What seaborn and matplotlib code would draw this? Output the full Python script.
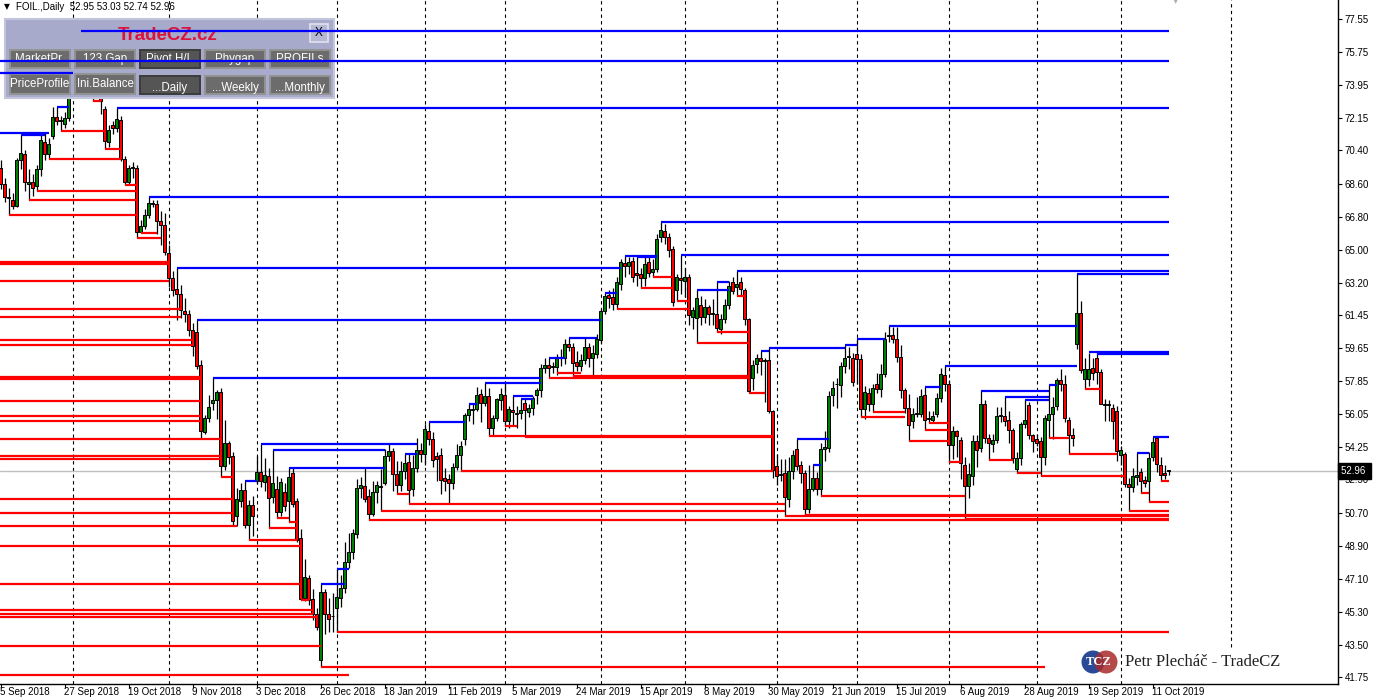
import numpy as np
import pandas as pd
import matplotlib
matplotlib.use("Agg")
import matplotlib.pyplot as plt
from matplotlib.patches import Rectangle, Circle
import seaborn as sns

# daily candles FOIL (one value per bar, bar 0 = 5 Sep 2018)
opens = [
    69.47, 68.55, 67.84, 67.73, 67.40, 69.86, 70.18, 68.60, 68.71, 68.44,
    69.37, 70.84, 70.18, 71.17, 72.20, 72.04, 71.82, 72.15, 73.50, 75.10,
    75.20, 76.30, 74.40, 74.30, 73.50, 73.30, 72.65, 70.86, 71.79, 71.62,
    72.04, 69.91, 68.66, 69.45, 69.47, 65.98, 66.28, 66.91, 67.51, 67.46,
    66.58, 66.36, 64.84, 63.47, 62.87, 62.60, 61.67, 61.51, 60.64, 60.50,
    58.73, 55.09, 55.83, 56.65, 56.84, 57.25, 53.22, 54.47, 53.76, 50.49,
    51.33, 51.91, 50.05, 51.09, 52.42, 52.89, 52.34, 52.68, 51.53, 51.96,
    50.72, 51.80, 51.31, 52.84, 51.33, 49.29, 46.07, 47.16, 46.01, 45.20,
    42.68, 46.36, 45.20, 45.05, 45.52, 46.03, 46.61, 48.03, 48.58, 49.52,
    52.02, 52.13, 51.58, 50.60, 51.81, 52.08, 52.31, 53.76, 54.03, 52.79,
    52.22, 52.98, 53.43, 51.96, 53.11, 54.08, 53.87, 55.13, 54.69, 53.76,
    53.82, 52.56, 52.51, 52.29, 53.16, 53.82, 54.71, 56.00, 56.30, 56.34,
    57.15, 56.66, 57.04, 55.29, 55.83, 56.80, 57.09, 55.67, 56.29, 56.10,
    56.10, 56.67, 56.16, 56.40, 57.09, 57.36, 58.56, 58.73, 58.63, 58.63,
    59.12, 59.11, 59.87, 59.72, 58.90, 58.70, 59.00, 59.72, 59.12, 59.34,
    60.09, 61.67, 62.55, 62.40, 62.07, 63.16, 64.29, 64.13, 64.40, 63.73,
    63.70, 63.44, 64.35, 63.76, 63.95, 65.67, 66.04, 65.67, 65.04, 62.80,
    63.46, 63.28, 63.52, 61.35, 61.27, 61.99, 61.35, 61.86, 61.52, 61.49,
    60.67, 61.22, 61.98, 63.26, 62.95, 63.22, 62.80, 61.22, 58.03, 58.77,
    59.12, 58.94, 58.98, 56.25, 53.22, 52.76, 52.85, 51.45, 52.98, 54.18,
    53.27, 52.85, 50.91, 52.00, 52.58, 52.00, 54.16, 54.22, 57.07, 57.67,
    57.64, 58.67, 59.16, 59.12, 59.34, 59.04, 56.31, 57.22, 56.58, 57.67,
    57.40, 58.22, 60.30, 60.35, 60.13, 59.16, 57.36, 56.40, 55.67, 56.07,
    56.04, 57.07, 55.79, 55.76, 56.04, 56.94, 58.16, 57.71, 54.36, 55.16,
    54.67, 53.27, 52.13, 52.67, 54.62, 54.20, 56.58, 54.76, 54.44, 54.67,
    55.98, 55.94, 55.76, 55.21, 53.07, 53.67, 55.52, 56.54, 54.91, 54.70,
    54.62, 53.73, 55.76, 56.04, 56.49, 57.89, 57.71, 55.76, 54.94, 59.86,
    61.55, 57.99, 57.96, 58.55, 59.09, 58.36, 56.54, 56.54, 56.37, 56.21,
    53.82, 53.89, 52.27, 52.08, 52.62, 52.90, 52.45, 52.40, 53.73, 54.76,
    53.31, 52.85, 52.95]
highs = [
    69.90, 68.90, 68.33, 68.10, 69.97, 71.22, 70.40, 69.37, 69.10, 69.60,
    71.22, 71.33, 71.06, 72.75, 72.75, 72.26, 72.50, 73.80, 75.30, 75.80,
    76.90, 76.50, 74.90, 74.60, 74.40, 73.60, 72.80, 71.80, 72.00, 72.70,
    72.30, 70.10, 69.60, 69.77, 69.60, 66.60, 67.20, 67.86, 67.70, 67.73,
    67.13, 67.02, 65.27, 63.86, 64.02, 63.09, 62.38, 61.70, 61.00, 61.18,
    59.00, 56.00, 57.09, 58.02, 57.36, 57.50, 55.73, 54.60, 54.00, 52.02,
    52.30, 52.42, 51.40, 51.60, 53.76, 54.43, 53.65, 53.10, 54.10, 52.70,
    52.60, 52.30, 53.12, 53.16, 51.50, 49.78, 48.20, 47.30, 46.56, 45.50,
    46.80, 46.56, 46.03, 46.30, 47.62, 47.30, 49.12, 49.58, 49.78, 52.51,
    52.62, 53.12, 52.00, 52.40, 52.40, 53.05, 54.15, 54.41, 54.20, 53.49,
    53.49, 53.87, 53.87, 53.82, 54.76, 54.50, 55.51, 55.63, 55.10, 54.00,
    54.20, 53.10, 52.80, 53.40, 54.43, 54.60, 56.10, 56.61, 56.61, 57.53,
    57.40, 57.77, 57.50, 56.00, 56.94, 57.50, 57.77, 56.50, 57.04, 56.50,
    56.90, 56.94, 56.60, 57.04, 57.50, 58.80, 59.10, 59.12, 58.90, 59.30,
    59.60, 60.15, 60.20, 59.90, 59.50, 59.30, 60.25, 59.90, 59.80, 60.40,
    61.80, 62.67, 62.83, 62.90, 63.49, 64.50, 64.67, 64.60, 64.60, 64.60,
    64.00, 64.60, 64.67, 64.50, 65.86, 66.53, 66.40, 65.90, 65.20, 63.70,
    64.71, 64.00, 63.70, 61.90, 62.83, 62.50, 62.30, 62.00, 62.30, 63.22,
    61.50, 62.30, 63.30, 63.49, 63.86, 63.49, 62.90, 61.30, 59.00, 59.30,
    59.49, 59.10, 59.64, 56.30, 53.90, 53.60, 53.60, 53.70, 54.12, 54.72,
    53.50, 53.00, 53.31, 53.27, 52.90, 54.50, 55.13, 57.30, 57.85, 58.00,
    58.90, 59.82, 59.70, 59.40, 60.13, 59.30, 57.60, 57.50, 57.70, 58.31,
    58.76, 60.50, 60.85, 60.80, 60.80, 59.80, 57.50, 57.13, 56.40, 57.00,
    57.40, 57.53, 56.20, 56.20, 57.20, 58.55, 58.67, 57.90, 55.40, 55.20,
    54.80, 53.70, 53.40, 54.90, 54.90, 57.35, 56.80, 55.00, 55.00, 56.43,
    56.43, 56.96, 56.20, 55.30, 54.00, 55.60, 56.80, 56.70, 55.00, 55.00,
    54.80, 56.00, 57.64, 57.00, 58.03, 58.50, 58.20, 55.90, 55.30, 63.70,
    62.22, 59.10, 59.38, 59.10, 59.38, 58.50, 56.90, 56.80, 56.60, 56.50,
    54.30, 54.00, 52.60, 53.10, 53.94, 53.10, 52.70, 54.00, 54.80, 54.80,
    53.70, 53.30, 53.03]
lows = [
    68.30, 67.60, 66.91, 67.20, 67.30, 69.37, 68.22, 67.73, 67.90, 68.22,
    69.00, 69.90, 69.91, 71.00, 71.77, 71.44, 71.60, 72.00, 73.30, 74.60,
    75.00, 74.20, 73.90, 73.10, 73.30, 72.40, 70.50, 70.60, 71.30, 71.40,
    69.80, 68.50, 68.60, 68.90, 65.66, 65.93, 66.10, 66.70, 67.30, 65.85,
    65.27, 64.73, 62.98, 62.49, 61.15, 61.30, 61.04, 60.32, 59.22, 58.50,
    54.69, 54.99, 55.60, 56.30, 55.81, 52.62, 53.00, 53.35, 50.05, 49.95,
    51.00, 49.85, 49.23, 49.45, 52.23, 52.10, 51.90, 49.88, 51.20, 50.38,
    50.50, 50.80, 50.20, 51.00, 49.12, 45.96, 45.90, 45.69, 44.87, 44.30,
    42.31, 44.12, 44.21, 44.21, 44.21, 45.58, 46.30, 47.70, 48.20, 49.30,
    51.50, 51.30, 50.27, 50.50, 51.20, 50.81, 52.18, 53.50, 51.85, 51.71,
    51.90, 52.50, 51.14, 51.60, 52.90, 53.45, 53.30, 54.40, 53.16, 52.40,
    51.69, 51.90, 51.14, 52.00, 53.00, 52.94, 54.40, 55.70, 55.50, 56.20,
    55.60, 56.50, 54.91, 54.85, 55.70, 56.30, 55.40, 55.30, 55.40, 55.31,
    55.80, 54.80, 55.90, 56.00, 56.60, 57.00, 58.30, 58.00, 58.30, 58.20,
    58.70, 58.80, 59.50, 58.13, 58.40, 58.40, 58.80, 58.63, 58.13, 59.10,
    59.90, 61.50, 61.84, 61.73, 61.77, 62.80, 63.50, 63.70, 63.22, 63.00,
    62.89, 63.00, 63.50, 63.49, 63.80, 65.40, 65.30, 64.60, 61.94, 62.22,
    62.60, 62.40, 60.90, 60.70, 59.94, 60.90, 61.00, 60.90, 60.90, 60.54,
    60.40, 61.00, 61.80, 62.60, 62.49, 62.50, 60.91, 57.22, 57.36, 58.30,
    58.20, 56.73, 56.10, 52.60, 52.22, 52.40, 50.50, 50.98, 52.50, 53.00,
    52.30, 50.58, 50.70, 51.90, 51.63, 51.58, 53.50, 54.00, 56.50, 56.40,
    57.00, 58.30, 58.50, 57.60, 57.70, 55.91, 55.80, 56.20, 56.18, 57.20,
    57.00, 58.10, 60.00, 59.90, 58.90, 56.91, 56.10, 54.58, 55.30, 55.90,
    55.90, 55.18, 55.58, 55.60, 55.90, 56.70, 57.30, 53.43, 53.60, 53.70,
    52.50, 50.36, 51.50, 52.20, 53.20, 54.00, 54.50, 53.58, 54.00, 54.50,
    55.60, 55.40, 54.50, 53.40, 52.85, 53.30, 55.30, 54.70, 54.00, 54.30,
    52.67, 53.30, 54.74, 54.70, 56.30, 57.30, 55.60, 53.89, 54.30, 59.60,
    58.30, 57.44, 57.60, 57.90, 57.70, 56.60, 55.70, 55.70, 54.70, 53.50,
    53.30, 52.10, 50.80, 51.80, 52.20, 51.77, 52.10, 51.27, 53.50, 52.90,
    52.40, 52.50, 52.74]
closes = [
    68.55, 67.84, 67.79, 67.40, 69.86, 70.24, 68.71, 68.70, 68.38, 69.37,
    70.95, 70.18, 70.73, 72.20, 71.98, 72.02, 72.15, 73.50, 75.10, 75.20,
    76.30, 74.40, 74.30, 73.50, 73.60, 73.10, 70.90, 71.52, 71.62, 72.09,
    69.91, 68.66, 69.42, 69.47, 65.98, 66.28, 66.91, 67.56, 67.51, 66.58,
    66.36, 64.89, 63.47, 62.79, 62.60, 61.70, 61.51, 60.64, 59.76, 58.67,
    55.13, 55.83, 56.43, 56.84, 57.25, 53.22, 54.47, 53.71, 50.22, 51.42,
    51.91, 50.05, 51.09, 50.51, 52.89, 52.42, 52.72, 51.50, 52.29, 50.72,
    52.34, 51.04, 52.62, 51.14, 49.23, 46.01, 47.22, 45.96, 45.20, 44.49,
    46.40, 45.16, 44.92, 45.05, 46.12, 46.58, 48.03, 48.58, 49.61, 52.02,
    52.18, 51.45, 50.60, 51.81, 52.18, 52.08, 53.76, 54.03, 52.79, 52.22,
    52.98, 53.40, 51.91, 53.11, 54.08, 53.87, 55.24, 54.69, 53.54, 53.60,
    52.45, 52.40, 52.29, 53.16, 53.82, 54.30, 56.00, 56.34, 56.34, 57.09,
    56.66, 57.04, 55.29, 55.83, 56.87, 57.16, 55.67, 56.32, 56.15, 56.07,
    56.30, 56.29, 56.40, 56.95, 57.36, 58.56, 58.73, 58.58, 58.63, 59.11,
    59.12, 59.87, 59.72, 58.84, 58.70, 59.00, 59.72, 59.12, 59.39, 60.15,
    61.67, 62.49, 62.38, 62.04, 63.22, 64.35, 64.09, 64.35, 63.54, 63.62,
    63.44, 64.24, 63.71, 63.95, 65.58, 66.08, 65.67, 64.98, 62.18, 63.52,
    63.35, 63.52, 61.45, 61.71, 62.37, 61.35, 61.86, 61.49, 61.52, 60.76,
    61.22, 61.98, 63.04, 62.76, 63.13, 62.85, 61.22, 57.30, 58.73, 59.12,
    58.94, 58.94, 56.25, 53.03, 52.67, 52.76, 51.52, 52.98, 53.85, 53.22,
    52.85, 50.89, 52.00, 52.58, 52.00, 54.16, 54.25, 57.04, 57.47, 57.67,
    58.67, 59.12, 59.16, 57.82, 59.04, 56.31, 57.25, 56.62, 57.45, 57.40,
    58.22, 60.13, 60.35, 60.13, 59.16, 57.36, 56.40, 55.49, 56.07, 56.07,
    57.02, 55.76, 55.79, 55.98, 56.94, 58.25, 57.71, 54.36, 55.13, 54.85,
    53.40, 52.13, 52.80, 54.62, 54.13, 56.58, 54.76, 54.49, 54.67, 55.94,
    55.98, 55.70, 55.21, 53.67, 53.67, 55.52, 55.76, 54.91, 54.62, 54.50,
    53.73, 55.82, 56.04, 56.43, 57.89, 57.71, 55.82, 54.91, 54.73, 61.55,
    58.44, 58.49, 58.49, 58.31, 58.36, 56.62, 56.54, 56.54, 55.67, 54.07,
    54.09, 52.27, 52.08, 52.67, 52.76, 52.40, 52.33, 53.67, 54.52, 53.33,
    52.72, 52.72, 52.96]

# support levels (red): price, first bar, last bar (-3 = starts left of the chart)
sup_level = [66.91, 67.73, 68.22, 69.91, 71.44, 73.10, 70.50, 68.50, 65.93, 65.66,
             64.32, 64.24, 63.31, 61.78, 61.35, 60.09, 59.82, 58.06, 57.98, 56.76,
             55.97, 55.67, 54.69, 53.76, 53.60, 52.62, 51.43, 50.70, 49.99, 49.23,
             49.88, 50.38, 50.20, 48.90, 46.83, 45.41, 45.20, 45.00, 43.45, 41.87,
             45.96, 42.31, 44.21, 50.27, 50.81, 51.14, 51.71, 52.94, 54.85, 54.80,
             55.40, 58.00, 58.13, 58.30, 61.77, 62.89, 63.49, 62.22, 60.54, 59.94,
             62.49, 57.22, 51.58, 50.58, 50.50, 56.18, 55.91, 55.58, 55.18, 54.58,
             53.43, 50.36, 53.58, 52.85, 52.67, 53.89, 54.74, 57.44, 52.40, 51.77,
             51.27, 50.80]
sup_from = [2, 7, 9, 12, 15, 23, 26, 31, 35, 34,
            -3, -3, -3, -3, -3, -3, -3, -3, -3, -3,
            -3, -3, -3, -3, -3, 55, -3, -3, -3, 62,
            67, 69, 72, -3, -3, -3, -3, -3, -3, -3,
            75, 80, 84, 92, 95, 102, 99, 115, 122, 131,
            126, 137, 143, 139, 154, 160, 163, 169, 179, 174,
            184, 187, 205, 201, 196, 218, 215, 232, 231, 227,
            237, 241, 247, 254, 260, 267, 262, 271, 290, 285,
            287, 282]
sup_to = [34, 34, 34, 30, 26, 25, 30, 34, 39, 40,
          42, 42, 42, 45, 45, 48, 48, 50, 50, 50,
          50, 50, 55, 55, 55, 58, 58, 58, 59, 74,
          74, 72, 74, 75, 75, 78, 78, 79, 80, 87,
          77, 261, 292, 292, 196, 196, 102, 193, 193, 193,
          129, 187, 187, 145, 172, 168, 168, 172, 187, 187,
          186, 191, 241, 292, 292, 226, 226, 237, 237, 237,
          240, 292, 253, 260, 281, 279, 267, 275, 292, 287,
          292, 292]

# resistance levels (blue)
res_level = [76.90, 75.26, 74.60, 72.70, 71.33, 71.22, 72.75, 67.86, 64.02, 61.18,
             58.02, 54.43, 54.10, 53.12, 52.42, 46.80, 47.62, 55.63, 57.77, 57.04,
             56.90, 53.87, 56.61, 60.20, 59.12, 64.67, 64.60, 66.53, 64.71, 63.86,
             62.83, 63.22, 62.67, 59.49, 59.64, 59.82, 60.13, 60.85, 58.67, 54.72,
             53.27, 63.70, 59.42, 59.34, 54.80, 53.94, 57.31, 56.96, 56.80, 57.64,
             57.53]
res_from = [20, -3, -3, 29, -3, 5, 14, 37, 44, 49,
            53, 65, 68, 72, 61, 80, 84, 107, 121, 128,
            130, 101, 117, 142, 137, 156, 159, 165, 170, 184,
            174, 179, 151, 190, 192, 211, 214, 222, 236, 199,
            203, 269, 272, 274, 288, 284, 245, 251, 256, 262,
            231]
res_to = [292, 292, 18, 292, 12, 11, 17, 292, 155, 150,
          135, 104, 96, 96, 64, 86, 87, 116, 135, 133,
          133, 104, 119, 149, 141, 164, 164, 292, 292, 292,
          182, 182, 154, 192, 211, 214, 221, 269, 269, 207,
          205, 292, 292, 292, 292, 287, 262, 262, 262, 264,
          235]

last_price = 52.96
price_ticks = [77.55, 75.75, 73.95, 72.15, 70.40, 68.60, 66.80, 65.00, 63.20, 61.45, 59.65,
               57.85, 56.05, 54.25, 52.50, 50.70, 48.90, 47.10, 45.30, 43.50, 41.75]
date_bars = [0, 16, 32, 48, 64, 80, 96, 112, 128, 144, 160, 176, 192, 208, 224, 240, 256, 272, 288]
date_labels = ["5 Sep 2018", "27 Sep 2018", "19 Oct 2018", "9 Nov 2018", "3 Dec 2018",
               "26 Dec 2018", "18 Jan 2019", "11 Feb 2019", "5 Mar 2019", "24 Mar 2019",
               "15 Apr 2019", "8 May 2019", "30 May 2019", "21 Jun 2019", "15 Jul 2019",
               "6 Aug 2019", "28 Aug 2019", "19 Sep 2019", "11 Oct 2019"]
month_seps = [18, 42, 64, 84, 106, 126, 150, 171, 194, 214, 237, 259, 280]
future_sep = 307.5

sns.set_style("white")
plt.rcParams['font.family'] = ['Liberation Sans', 'DejaVu Sans']

df = pd.DataFrame({'open': opens, 'high': highs, 'low': lows, 'close': closes})
df['bar'] = np.arange(len(df))
df['up'] = df['close'] >= df['open']

W, H = 1374, 699
fig = plt.figure(figsize=(W / 100, H / 100), dpi=100)
ax = fig.add_axes([0, 15 / H, 1338 / W, 684 / H])
ax.set_xlim(-0.125, 334.375)
ax.set_ylim(41.374, 78.584)


def inch(x, y):
    # pixel position (from top left) -> inches for fig.dpi_scale_trans
    return x / 100, (H - y) / 100


# separators and last price line
for b in month_seps:
    ax.axvline(b, color='black', lw=0.8, ls=(0, (3, 3)), zorder=1)
ax.axvline(future_sep, ymin=0.054, color='black', lw=0.8, ls=(0, (3, 3)), zorder=1)
ax.axhline(last_price, color='#c0c0c0', lw=1, zorder=1)

# candles
ax.vlines(df['bar'], np.minimum(df['low'], df[['open', 'close']].min(axis=1)),
          np.maximum(df['high'], df[['open', 'close']].max(axis=1)),
          color='black', lw=0.9, zorder=2)
body = np.maximum((df['close'] - df['open']).abs(), 0.04)
ax.bar(df['bar'], body, bottom=df[['open', 'close']].min(axis=1), width=0.55,
       color=np.where(df['up'], '#008000', '#ff0000'), edgecolor='black',
       linewidth=0.7, zorder=2.5)

# support / resistance
ax.hlines(sup_level, sup_from, sup_to, colors='#ff0000', lw=1.6, zorder=4)
ax.hlines(res_level, res_from, res_to, colors='#0000ff', lw=1.6, zorder=4)

# axes look
sns.despine(ax=ax, left=True, top=True, right=False, bottom=False)
for s in ('right', 'bottom'):
    ax.spines[s].set_color('black')
    ax.spines[s].set_linewidth(1)
ax.yaxis.tick_right()
ax.set_yticks(price_ticks)
ax.set_yticklabels([f"{v:.2f}" for v in price_ticks])
ax.tick_params(axis='y', direction='out', length=3, width=0.8, pad=2,
               labelsize=7, colors='black', right=True, left=False)
ax.set_xticks(date_bars)
ax.set_xticklabels(date_labels, ha='left')
ax.tick_params(axis='x', direction='out', length=3, width=0.8, pad=-1,
               labelsize=7, colors='black', bottom=True)
ax.set_xlabel('')
ax.set_ylabel('')
ax.grid(False)

# last price tag
ax.text(1.002, last_price, f"{last_price:.2f} ", transform=ax.get_yaxis_transform(),
        ha='left', va='center', fontsize=7, color='white', clip_on=False, zorder=6,
        bbox=dict(boxstyle='square,pad=0.3', fc='black', ec='black'))

# header
fig.text(4 / W, 1 - 7 / H, "\u25bc", fontsize=5.5, va='center', ha='left',
         family=['DejaVu Sans'], color='black')
fig.text(16 / W, 1 - 7.5 / H, "FOIL.,Daily  52.95 53.03 52.74 52.96", fontsize=7,
         va='center', ha='left', color='black')
fig.text(1176 / W, 1 - 1 / H, "\u25bc", fontsize=5, va='center', ha='center',
         family=['DejaVu Sans'], color='#b0b0b0')

# tool panel (under the level lines)
tr = fig.dpi_scale_trans
x0, y0 = inch(5, 98)
ax.add_patch(Rectangle((x0, y0), 329 / 100, 79 / 100, transform=tr, fc='#a7aacb',
                       ec='#c3c5dc', lw=1.5, clip_on=False, zorder=3))
ax.text(*inch(168, 35), "TradeCZ.cz", transform=tr, fontsize=13.5, fontweight='bold',
        color='#dc143c', ha='center', va='center', zorder=3.6, clip_on=False)
xb0, yb0 = inch(310, 42)
ax.add_patch(Rectangle((xb0, yb0), 18 / 100, 18 / 100, transform=tr, fc='#b6b8d4',
                       ec='#e2e3ee', lw=1.2, clip_on=False, zorder=3.4))
ax.text(*inch(319, 33), "X", transform=tr, fontsize=8.5, color='black', ha='center',
        va='center', zorder=3.6, clip_on=False)

buttons = [("MarketPr.", 10, 50, False), ("123 Gap", 75, 50, False),
           ("Pivot H/L", 140, 50, True), ("Phygap", 205, 50, False),
           ("PROFILs", 270, 50, False), ("PriceProfile", 10, 74, False),
           ("Ini.Balance", 75, 74, False), ("...Daily", 140, 76, True),
           ("...Weekly", 205, 76, False), ("...Monthly", 270, 76, False)]
for label, bx, by, pressed in buttons:
    bh = 18 if by != 74 else 20
    rx, ry = inch(bx, by + bh)
    ax.add_patch(Rectangle((rx, ry), 60 / 100, bh / 100, transform=tr,
                           fc='#555555' if pressed else '#6c6c6c',
                           ec='#3c3c3c' if pressed else '#939393', lw=1.4,
                           clip_on=False, zorder=3.4))
    ty = by + bh / 2 + (2.5 if label.startswith('...') else 0)
    ax.text(*inch(bx + 30, ty), label, transform=tr, fontsize=8.3, color='white',
            ha='center', va='center', zorder=3.6, clip_on=False)

# signature logo
fig.add_artist(Circle(inch(1093, 662), 0.115, transform=tr, fc='#2a4a98', ec='none'))
fig.add_artist(Circle(inch(1106, 662), 0.115, transform=tr, fc='#a82a2a', ec='none', alpha=0.85))
fig.text(*inch(1099, 662), "TCZ", transform=tr, fontsize=9, fontweight='bold',
         color='white', ha='center', va='center', family=['Liberation Serif', 'DejaVu Serif'])
fig.text(*inch(1125, 662), "Petr Plecháč - TradeCZ", transform=tr, fontsize=12,
         color='#222222', ha='left', va='center', family=['Liberation Serif', 'DejaVu Serif'])

fig.savefig('out.png', dpi=100, facecolor='white')
